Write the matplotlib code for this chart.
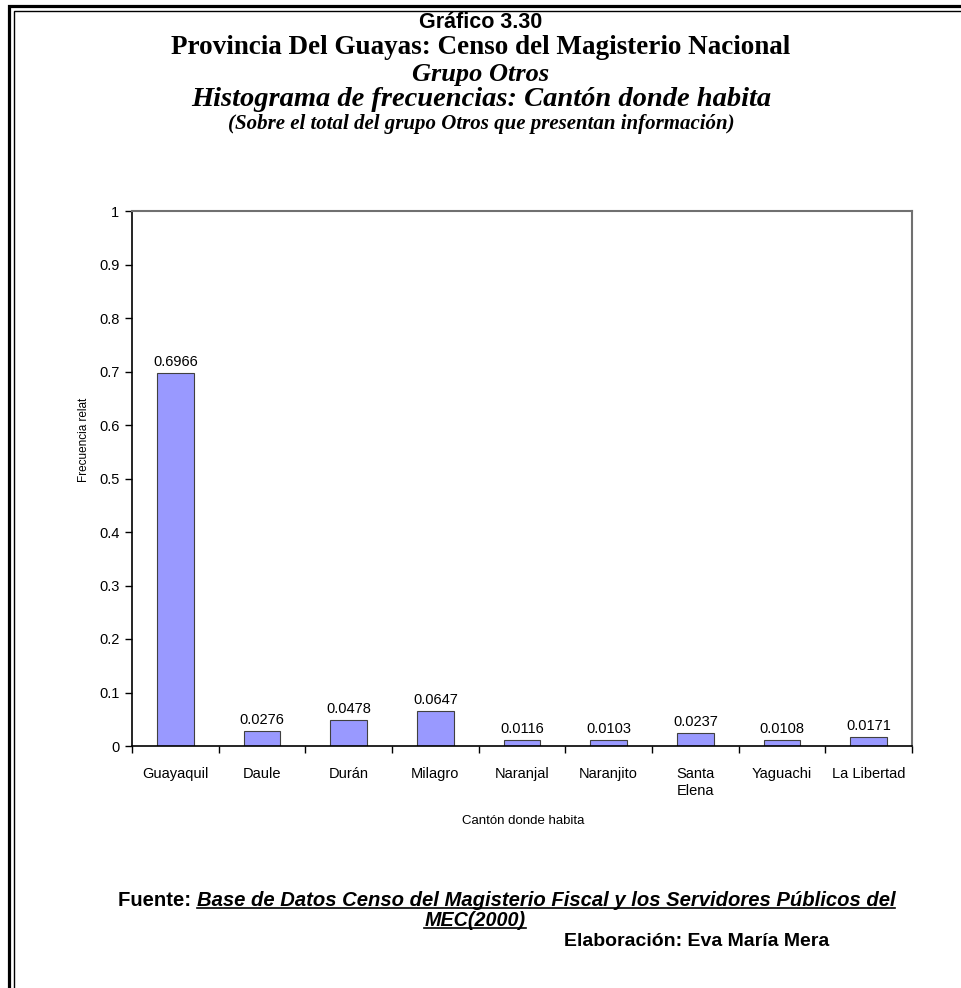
import matplotlib.pyplot as plt
import numpy as np
from matplotlib.patches import Rectangle
from matplotlib.lines import Line2D

cantones = ['Guayaquil', 'Daule', 'Durán', 'Milagro', 'Naranjal', 'Naranjito',
            'Santa\nElena', 'Yaguachi', 'La Libertad']
frecuencia = [0.6966, 0.0276, 0.0478, 0.0647, 0.0116, 0.0103, 0.0237, 0.0108, 0.0171]
yticks = [0, 0.1, 0.2, 0.3, 0.4, 0.5, 0.6, 0.7, 0.8, 0.9, 1]
ytick_labels = ['0', '0.1', '0.2', '0.3', '0.4', '0.5', '0.6', '0.7', '0.8', '0.9', '1']

W, H = 962, 988
fig = plt.figure(figsize=(W / 100, H / 100), dpi=100)
sans = 'Liberation Sans'
serif = 'Liberation Serif'

# double border around the page
fig.patches.append(Rectangle((8.5 / W, -0.1), 1.2, 1 - 6.5 / H + 0.1, transform=fig.transFigure,
                             fill=False, lw=2.3, ec='black'))
fig.patches.append(Rectangle((14 / W, -0.1), 1.2, 1 - 11.5 / H + 0.1, transform=fig.transFigure,
                             fill=False, lw=1.0, ec='black'))

# titles
fig.text(0.5, 1 - 23 / H, 'Gráfico 3.30', ha='center', va='center', family=sans,
         weight='bold', fontsize=15.5)
fig.text(0.5, 1 - 48 / H, 'Provincia Del Guayas: Censo del Magisterio Nacional', ha='center',
         va='center', family=serif, weight='bold', fontsize=19.5)
fig.text(0.5, 1 - 74 / H, 'Grupo Otros', ha='center', va='center', family=serif,
         weight='bold', style='italic', fontsize=19)
fig.text(0.5, 1 - 100 / H, 'Histograma de frecuencias: Cantón donde habita', ha='center',
         va='center', family=serif, weight='bold', style='italic', fontsize=20.5)
fig.text(0.5, 1 - 124 / H, '(Sobre el total del grupo Otros que presentan información)',
         ha='center', va='center', family=serif, weight='bold', style='italic', fontsize=15)

ax = fig.add_axes([132 / W, 1 - 746 / H, (912 - 132) / W, (746 - 211) / H])
x = np.arange(len(cantones))
bars = ax.bar(x, frecuencia, width=0.42, color='#9999FF', edgecolor='#404040', lw=0.8)
for xi, v in zip(x, frecuencia):
    ax.text(xi, v + 0.008, f'{v:.4f}', ha='center', va='bottom', family=sans, fontsize=10.5)

ax.set_xlim(-0.5, len(cantones) - 0.5)
ax.set_ylim(0, 1)
ax.set_yticks(yticks)
ax.set_yticklabels(ytick_labels, family=sans, fontsize=10.5)
ax.set_xticks(np.arange(-0.5, len(cantones), 1))
ax.set_xticklabels([])
ax.set_xticks(x, minor=True)
ax.set_xticklabels(cantones, minor=True, family=sans, fontsize=10.5, linespacing=1.3)
ax.tick_params(axis='x', which='minor', length=0, pad=15)
ax.tick_params(axis='x', which='major', length=5, width=1)
ax.tick_params(axis='y', length=5, width=1, pad=4)
for s in ['top', 'right']:
    ax.spines[s].set_color('#707070')
    ax.spines[s].set_linewidth(1.5)
for s in ['left', 'bottom']:
    ax.spines[s].set_linewidth(1.2)

fig.text(84 / W, 1 - 440 / H, 'Frecuencia relat', rotation=90, ha='center', va='center',
         family=sans, fontsize=8.5)
fig.text(523 / W, 1 - 821 / H, 'Cantón donde habita', ha='center', va='center',
         family=sans, fontsize=9.5)

# source notes
t1 = fig.text(118 / W, 1 - 900 / H, 'Fuente: ', ha='left', va='center', family=sans,
              weight='bold', fontsize=14.6)
fig.canvas.draw()
r = fig.canvas.get_renderer()
bb = t1.get_window_extent(r)
t2 = fig.text(bb.x1 / W, 1 - 900 / H,
              'Base de Datos Censo del Magisterio Fiscal y los Servidores Públicos del',
              ha='left', va='center', family=sans, weight='bold', style='italic', fontsize=14.6)
t3 = fig.text(475 / W, 1 - 920 / H, 'MEC(2000)', ha='center', va='center', family=sans,
              weight='bold', style='italic', fontsize=14.2)
fig.text(697 / W, 1 - 941 / H, 'Elaboración: Eva María Mera', ha='center', va='center',
         family=sans, weight='bold', fontsize=14)
fig.canvas.draw()
for t in (t2, t3):
    b = t.get_window_extent(r)
    fig.lines.append(Line2D([b.x0 / W, b.x1 / W], [(b.y0 + 2) / H, (b.y0 + 2) / H],
                            transform=fig.transFigure, color='black', lw=1.2))

fig.savefig('out.png', dpi=100)
